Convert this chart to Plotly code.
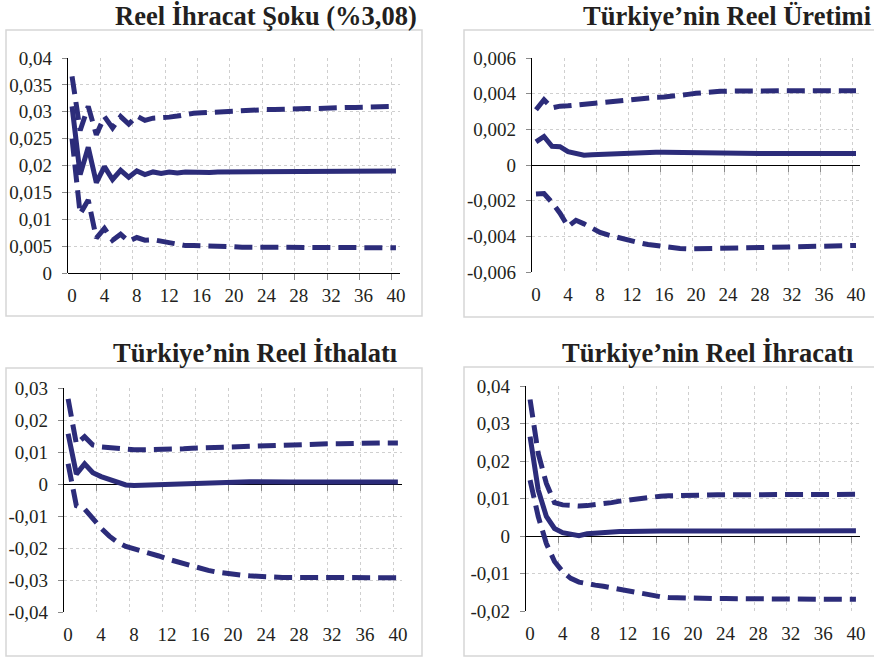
import plotly.graph_objects as go

# Horizon (quarters after the shock)
steps = list(range(41))
x_label_vals = list(range(0, 41, 4))
x_label_text = [str(v) for v in x_label_vals]

# --- Reel İhracat Şoku (%3,08) ---
shock_mid = [0.0310, 0.0183, 0.0234, 0.0168, 0.0198, 0.0174, 0.0191, 0.0178, 0.0190, 0.0183,
             0.0188, 0.0185, 0.0188, 0.0186, 0.0188, 0.0187, 0.0188, 0.0187, 0.0188, 0.0188,
             0.0188, 0.0188, 0.0189, 0.0189, 0.0189, 0.0189, 0.0189, 0.0189, 0.0189, 0.0189,
             0.0189, 0.0190, 0.0190, 0.0190, 0.0190, 0.0190, 0.0190, 0.0190, 0.0190, 0.0190, 0.0190]
shock_up = [0.0366, 0.0265, 0.0310, 0.0257, 0.0291, 0.0270, 0.0291, 0.0277, 0.0292, 0.0284,
            0.0288, 0.0288, 0.0290, 0.0292, 0.0295, 0.0297, 0.0298, 0.0299, 0.0300, 0.0300,
            0.0301, 0.0302, 0.0303, 0.0303, 0.0304, 0.0304, 0.0305, 0.0305, 0.0306, 0.0306,
            0.0306, 0.0307, 0.0307, 0.0307, 0.0308, 0.0308, 0.0308, 0.0309, 0.0309, 0.0309, 0.0310]
shock_lo = [0.0250, 0.0110, 0.0136, 0.0065, 0.0083, 0.0061, 0.0072, 0.0059, 0.0066, 0.0061,
            0.0062, 0.0059, 0.0055, 0.0052, 0.0051, 0.0051, 0.0051, 0.0050, 0.0050, 0.0049,
            0.0049, 0.0048, 0.0048, 0.0048, 0.0048, 0.0047, 0.0047, 0.0047, 0.0047, 0.0047,
            0.0047, 0.0047, 0.0047, 0.0047, 0.0047, 0.0047, 0.0047, 0.0047, 0.0047, 0.0047, 0.0047]
shock_yvals = [0, 0.005, 0.01, 0.015, 0.02, 0.025, 0.03, 0.035, 0.04]
shock_ytext = ["0", "0,005", "0,01", "0,015", "0,02", "0,025", "0,03", "0,035", "0,04"]

# --- Türkiye'nin Reel Üretimi ---
uretim_mid = [0.00130, 0.00160, 0.00105, 0.00103, 0.00075, 0.00063, 0.00055, 0.00058, 0.00060, 0.00062,
              0.00065, 0.00069, 0.00072, 0.00074, 0.00073, 0.00072, 0.00071, 0.00070, 0.00069, 0.00068,
              0.00068, 0.00067, 0.00067, 0.00066, 0.00066, 0.00065, 0.00065, 0.00065, 0.00065, 0.00065,
              0.00064, 0.00064, 0.00064, 0.00064, 0.00064, 0.00064, 0.00064, 0.00064, 0.00064, 0.00064, 0.00064]
uretim_up = [0.00310, 0.00366, 0.00320, 0.00330, 0.00332, 0.00337, 0.00340, 0.00343, 0.00347, 0.00352,
             0.00358, 0.00363, 0.00370, 0.00375, 0.00378, 0.00380, 0.00381, 0.00384, 0.00390, 0.00396,
             0.00402, 0.00407, 0.00411, 0.00413, 0.00414, 0.00415, 0.00415, 0.00415, 0.00416, 0.00416,
             0.00416, 0.00416, 0.00416, 0.00417, 0.00417, 0.00417, 0.00417, 0.00417, 0.00417, 0.00417, 0.00417]
uretim_lo = [-0.00163, -0.00160, -0.00210, -0.00270, -0.00345, -0.00310, -0.00330, -0.00358, -0.00378, -0.00392,
             -0.00405, -0.00418, -0.00428, -0.00437, -0.00446, -0.00453, -0.00460, -0.00465, -0.00468, -0.00470,
             -0.00470, -0.00470, -0.00469, -0.00468, -0.00467, -0.00466, -0.00465, -0.00464, -0.00463, -0.00462,
             -0.00461, -0.00460, -0.00459, -0.00458, -0.00457, -0.00456, -0.00455, -0.00454, -0.00453, -0.00452, -0.00451]
uretim_yvals = [-0.006, -0.004, -0.002, 0, 0.002, 0.004, 0.006]
uretim_ytext = ["-0,006", "-0,004", "-0,002", "0", "0,002", "0,004", "0,006"]

# --- Türkiye'nin Reel İthalatı ---
ithalat_mid = [0.0157, 0.0031, 0.0063, 0.0035, 0.0023, 0.0015, 0.0006, -0.0003, -0.0005, -0.0004,
               -0.0003, -0.0003, -0.0003, -0.0002, 0.0000, 0.0002, 0.0004, 0.0005, 0.0006, 0.0007,
               0.0007, 0.0007, 0.0007, 0.0007, 0.0006, 0.0006, 0.0006, 0.0006, 0.0006, 0.0006,
               0.0006, 0.0006, 0.0006, 0.0006, 0.0006, 0.0006, 0.0006, 0.0006, 0.0006, 0.0006, 0.0006]
ithalat_up = [0.0266, 0.0125, 0.0148, 0.0122, 0.0116, 0.0113, 0.0110, 0.0108, 0.0107, 0.0107,
              0.0107, 0.0107, 0.0107, 0.0109, 0.0110, 0.0112, 0.0113, 0.0114, 0.0115, 0.0116,
              0.0116, 0.0117, 0.0118, 0.0119, 0.0120, 0.0121, 0.0122, 0.0123, 0.0123, 0.0124,
              0.0125, 0.0125, 0.0126, 0.0126, 0.0127, 0.0127, 0.0127, 0.0128, 0.0128, 0.0128, 0.0128]
ithalat_lo = [0.0063, -0.0068, -0.0078, -0.0110, -0.0138, -0.0163, -0.0182, -0.0195, -0.0202, -0.0208,
              -0.0216, -0.0225, -0.0234, -0.0242, -0.0250, -0.0258, -0.0264, -0.0270, -0.0275, -0.0279,
              -0.0282, -0.0285, -0.0287, -0.0289, -0.0290, -0.0291, -0.0292, -0.0292, -0.0292, -0.0292,
              -0.0293, -0.0293, -0.0293, -0.0293, -0.0293, -0.0293, -0.0293, -0.0293, -0.0293, -0.0293, -0.0293]
ithalat_yvals = [-0.04, -0.03, -0.02, -0.01, 0, 0.01, 0.02, 0.03]
ithalat_ytext = ["-0,04", "-0,03", "-0,02", "-0,01", "0", "0,01", "0,02", "0,03"]

# --- Türkiye'nin Reel İhracatı ---
ihracat_mid = [0.0265, 0.0123, 0.0052, 0.0020, 0.0009, 0.0004, 0.0001, 0.0006, 0.0008, 0.0010,
               0.0011, 0.0012, 0.0012, 0.0013, 0.0013, 0.0013, 0.0013, 0.0013, 0.0013, 0.0014,
               0.0014, 0.0014, 0.0014, 0.0014, 0.0014, 0.0014, 0.0014, 0.0014, 0.0014, 0.0014,
               0.0014, 0.0014, 0.0014, 0.0014, 0.0014, 0.0014, 0.0014, 0.0014, 0.0014, 0.0014, 0.0014]
ihracat_up = [0.0364, 0.0220, 0.0140, 0.0089, 0.0083, 0.0081, 0.0080, 0.0081, 0.0083, 0.0086,
              0.0089, 0.0093, 0.0096, 0.0099, 0.0102, 0.0104, 0.0106, 0.0107, 0.0108, 0.0109,
              0.0110, 0.0110, 0.0110, 0.0110, 0.0110, 0.0110, 0.0110, 0.0110, 0.0110, 0.0111,
              0.0111, 0.0111, 0.0111, 0.0111, 0.0111, 0.0111, 0.0111, 0.0111, 0.0111, 0.0111, 0.0111]
ihracat_lo = [0.0149, 0.0052, -0.0020, -0.0068, -0.0095, -0.0113, -0.0123, -0.0128, -0.0131, -0.0134,
              -0.0138, -0.0143, -0.0148, -0.0153, -0.0157, -0.0160, -0.0162, -0.0164, -0.0165, -0.0166,
              -0.0166, -0.0167, -0.0167, -0.0167, -0.0167, -0.0167, -0.0168, -0.0168, -0.0168, -0.0168,
              -0.0168, -0.0168, -0.0168, -0.0169, -0.0169, -0.0169, -0.0169, -0.0169, -0.0169, -0.0169, -0.0169]
ihracat_yvals = [-0.02, -0.01, 0, 0.01, 0.02, 0.03, 0.04]
ihracat_ytext = ["-0,02", "-0,01", "0", "0,01", "0,02", "0,03", "0,04"]

W, H = 874, 658
LINE = "#2c2c7a"
INK = "#231f20"
GRID = "#cfcfcf"
SERIF = "Liberation Serif"

panels = [
    dict(title="Reel İhracat Şoku (%3,08)", mid=shock_mid, up=shock_up, lo=shock_lo,
         yvals=shock_yvals, ytext=shock_ytext,
         plot=(68, 58, 400, 273), box=(6, 30, 422, 316), title_xy=(266, 16)),
    dict(title="Türkiye’nin Reel Üretimi", mid=uretim_mid, up=uretim_up, lo=uretim_lo,
         yvals=uretim_yvals, ytext=uretim_ytext,
         plot=(532, 58, 860, 272), box=(464, 30, 880, 317), title_xy=(727, 16)),
    dict(title="Türkiye’nin Reel İthalatı", mid=ithalat_mid, up=ithalat_up, lo=ithalat_lo,
         yvals=ithalat_yvals, ytext=ithalat_ytext,
         plot=(64, 388, 402, 612), box=(6, 368, 422, 656), title_xy=(255, 353)),
    dict(title="Türkiye’nin Reel İhracatı", mid=ihracat_mid, up=ihracat_up, lo=ihracat_lo,
         yvals=ihracat_yvals, ytext=ihracat_ytext,
         plot=(526, 386, 860, 611), box=(464, 367, 880, 656), title_xy=(708, 353)),
]

# Category boundaries: gridlines and axis ticks sit between categories
boundary_vals = [v - 0.5 for v in range(4, 41, 4)]
x_range = [-0.5, 40.5]


def px_x(v):
    return v / W


def px_y(v):
    return 1 - v / H


fig = go.Figure()
shapes = []
annotations = []

for k, p in enumerate(panels):
    gx = 2 * k + 1          # axis carrying the traces, gridlines and ticks at y=0
    lx = 2 * k + 2          # overlay axis carrying the horizon labels
    ky = k + 1
    left, top, right, bottom = p["plot"]
    xdom = [px_x(left), px_x(right)]
    ydom = [px_y(bottom), px_y(top)]
    ymin, ymax = p["yvals"][0], p["yvals"][-1]
    zero_pos = ydom[0] + (0 - ymin) / (ymax - ymin) * (ydom[1] - ydom[0])

    gname = "x" if gx == 1 else f"x{gx}"
    lname = f"x{lx}"
    yname = "y" if ky == 1 else f"y{ky}"

    for series, dash in ((p["up"], "18px,8px"), (p["lo"], "18px,8px"), (p["mid"], "solid")):
        fig.add_trace(go.Scatter(
            x=steps, y=series, mode="lines", xaxis=gname, yaxis=yname,
            line=dict(color=LINE, width=5, dash=dash), showlegend=False, hoverinfo="skip"))
    fig.add_trace(go.Scatter(x=[None], y=[None], mode="lines", xaxis=lname, yaxis=yname,
                             showlegend=False, hoverinfo="skip"))

    fig.layout[f"xaxis{gx}" if gx > 1 else "xaxis"] = dict(
        domain=xdom, range=x_range, anchor="free", position=zero_pos, automargin=False,
        tickmode="array", tickvals=boundary_vals, showticklabels=False,
        ticks="outside", ticklen=6, tickwidth=1, tickcolor="#8a8a8a",
        showgrid=True, gridcolor=GRID, griddash="dot", gridwidth=1,
        showline=True, linecolor="black", linewidth=1.3,
        zeroline=False, layer="below traces", fixedrange=True)
    fig.layout[f"xaxis{lx}"] = dict(
        domain=xdom, range=x_range, anchor=yname, overlaying=gname, side="bottom",
        automargin=False,
        tickmode="array", tickvals=x_label_vals, ticktext=x_label_text,
        ticks="", ticklabelstandoff=9, showgrid=False, showline=False, zeroline=False,
        tickfont=dict(family=SERIF, size=19, color=INK), fixedrange=True)
    fig.layout[f"yaxis{ky}" if ky > 1 else "yaxis"] = dict(
        domain=ydom, range=[ymin, ymax], anchor=gname, automargin=False,
        tickmode="array", tickvals=p["yvals"], ticktext=p["ytext"],
        ticks="outside", ticklen=5, tickwidth=1, tickcolor="#8a8a8a", ticklabelstandoff=6,
        showgrid=True, gridcolor=GRID, griddash="dot", gridwidth=1,
        showline=True, linecolor="black", linewidth=1.3, zeroline=False,
        layer="below traces", tickfont=dict(family=SERIF, size=19, color=INK), fixedrange=True)

    bx0, by0, bx1, by1 = p["box"]
    shapes.append(dict(type="rect", xref="paper", yref="paper",
                       x0=px_x(bx0), x1=px_x(bx1), y0=px_y(by1), y1=px_y(by0),
                       line=dict(color="#d6d6d6", width=1.5), fillcolor="rgba(0,0,0,0)",
                       layer="below"))
    tx, ty = p["title_xy"]
    annotations.append(dict(text=f"<b>{p['title']}</b>", xref="paper", yref="paper",
                            x=px_x(tx), y=px_y(ty), xanchor="center", yanchor="middle",
                            showarrow=False, font=dict(family=SERIF, size=26.5, color=INK)))

fig.update_layout(
    width=W, height=H, margin=dict(l=0, r=0, t=0, b=0, autoexpand=False),
    paper_bgcolor="white", plot_bgcolor="rgba(0,0,0,0)",
    shapes=shapes, annotations=annotations, showlegend=False,
)

fig.write_html("out.html", include_plotlyjs=True, config={"displayModeBar": False})
